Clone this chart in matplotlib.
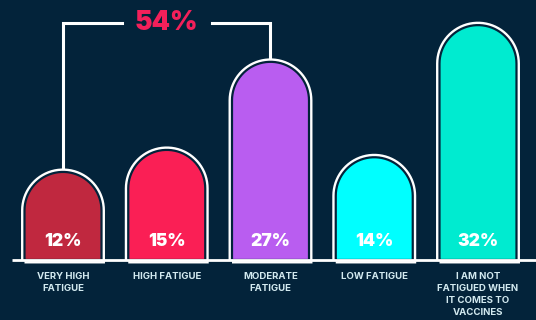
import numpy as np
import matplotlib.pyplot as plt
from matplotlib.path import Path
from matplotlib.patches import PathPatch

categories = ["VERY HIGH\nFATIGUE", "HIGH FATIGUE", "MODERATE\nFATIGUE",
              "LOW FATIGUE", "I AM NOT\nFATIGUED WHEN\nIT COMES TO\nVACCINES"]
values = [12, 15, 27, 14, 32]
colors = ["#c0283f", "#fa1f55", "#b95df0", "#00ffff", "#00ebd0"]
bracket_group = [0, 1, 2]

bg = "#03233a"
W, H = 536, 320
fig = plt.figure(figsize=(W / 100, H / 100), dpi=100, facecolor=bg)
ax = fig.add_axes([0, 0, 1, 1])
ax.set_facecolor(bg)
ax.axis("off")

# scales: pixels per unit
px_x = 103.75
px_y = 7.34
x0 = 63
base = 60
ax.set_xlim(-x0 / px_x, (W - x0) / px_x)
ax.set_ylim(-base / px_y, (H - base) / px_y)

bw = 77 / px_x  # bar width in x units
rx = bw / 2
ry = rx * px_x / px_y


def rounded_bar(xc, h):
    t = np.linspace(0, np.pi, 40)
    top = h - ry
    verts = [(xc - rx, 0), (xc + rx, 0), (xc + rx, top)]
    verts += list(zip(xc + rx * np.cos(t), top + ry * np.sin(t)))
    verts += [(xc - rx, top), (xc - rx, 0)]
    return Path(verts)


for i, (v, c) in enumerate(zip(values, colors)):
    p = rounded_bar(i, v)
    ax.add_patch(PathPatch(p, facecolor="none", edgecolor="white", lw=5, zorder=2))
    ax.add_patch(PathPatch(p, facecolor=c, edgecolor=bg, lw=1.6, zorder=3))
    ax.text(i, 18 / px_y, f"{v}%", color="white", ha="center", va="center",
            fontsize=12.5, fontweight=900, family="Inter", zorder=5)
    ax.text(i, -12 / px_y, categories[i], color="#d3eaf0", ha="center", va="top",
            fontsize=6.9, fontweight=700, family="Inter", linespacing=1.42, zorder=5)

# baseline
ax.plot([ax.get_xlim()[0] + 12 / px_x, ax.get_xlim()[1]], [0, 0], color="white", lw=2, zorder=4,
        solid_capstyle="butt")

# bracket
a, b = bracket_group[0], bracket_group[-1]
yb = (H - 23 - base) / px_y
mid = (a + b) / 2
gap = 45 / px_x
kw = dict(color="white", lw=2.2, zorder=1, solid_joinstyle="miter")
ax.plot([a, a, mid - gap], [values[a], yb, yb], **kw)
ax.plot([mid + gap, b, b], [yb, yb, values[b]], **kw)
total = sum(values[a:b + 1])
ax.text(mid, yb, f"{total}%", color="#f3205a", ha="center", va="center",
        fontsize=19, fontweight=900, family="Inter")

fig.savefig("out.png", dpi=100, facecolor=bg)
